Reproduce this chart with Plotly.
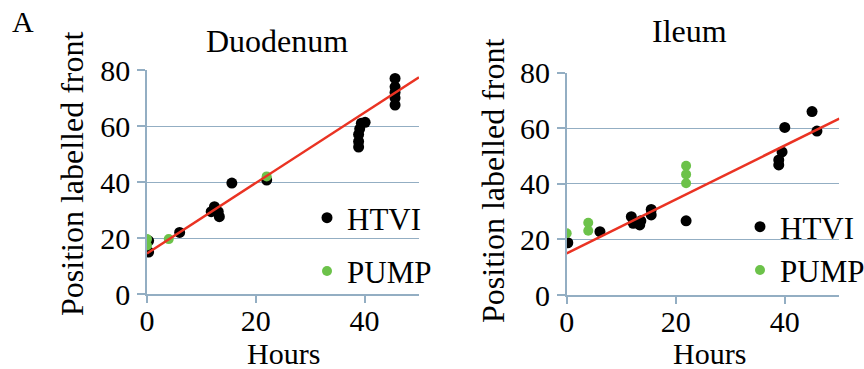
import plotly.graph_objects as go

# ---- data ----
hours_fit = [0, 50]

duo_htvi_x = [0.3, 0.3, 6, 11.8, 12.4, 13.1, 13.3, 15.6, 22, 38.9, 38.9, 38.9, 39.1, 39.4, 40.1, 45.6, 45.6, 45.6, 45.6, 45.6]
duo_htvi_y = [15, 19, 22, 29.4, 31.2, 29.4, 27.6, 39.6, 40.7, 52.5, 54.5, 57, 59, 61, 61.3, 77, 74, 72, 70, 67.5]
duo_pump_x = [0, 0, 4, 22]
duo_pump_y = [17.3, 19.6, 19.6, 42]
duo_fit_y = [14.5, 77.4]

ile_htvi_x = [0.2, 6.1, 11.85, 12.2, 13.4, 13.6, 15.5, 15.5, 21.9, 38.9, 38.9, 39.5, 40, 45, 45.9]
ile_htvi_y = [18.8, 22.8, 28.2, 25.8, 25.2, 26.7, 30.8, 28.8, 26.7, 46.8, 48.6, 51.5, 60.3, 66, 59]
ile_pump_x = [0, 3.95, 3.95, 21.9, 21.9, 21.9]
ile_pump_y = [22.2, 26, 23.1, 46.5, 43.4, 40.2]
ile_fit_y = [15, 63.5]

y_ticks = [0, 20, 40, 60, 80]
x_ticks = [0, 20, 40]

FONT = "Liberation Serif, Times New Roman, serif"
AXC = "#93aec3"
BLACK = "#000000"
GREEN = "#6cc24a"
RED = "#ea3323"

fig = go.Figure()

# Duodenum
fig.add_trace(go.Scatter(x=duo_htvi_x, y=duo_htvi_y, mode="markers", name="HTVI",
                         marker=dict(color=BLACK, size=11), xaxis="x", yaxis="y",
                         legend="legend", legendgroup="a1"))
fig.add_trace(go.Scatter(x=duo_pump_x, y=duo_pump_y, mode="markers", name="PUMP",
                         marker=dict(color=GREEN, size=10), xaxis="x", yaxis="y",
                         legend="legend", legendgroup="a2"))
fig.add_trace(go.Scatter(x=hours_fit, y=duo_fit_y, mode="lines", showlegend=False,
                         line=dict(color=RED, width=2.5), xaxis="x", yaxis="y"))
# Ileum
fig.add_trace(go.Scatter(x=ile_htvi_x, y=ile_htvi_y, mode="markers", name="HTVI",
                         marker=dict(color=BLACK, size=11), xaxis="x2", yaxis="y2",
                         legend="legend2", legendgroup="b1"))
fig.add_trace(go.Scatter(x=ile_pump_x, y=ile_pump_y, mode="markers", name="PUMP",
                         marker=dict(color=GREEN, size=10), xaxis="x2", yaxis="y2",
                         legend="legend2", legendgroup="b2"))
fig.add_trace(go.Scatter(x=hours_fit, y=ile_fit_y, mode="lines", showlegend=False,
                         line=dict(color=RED, width=2.5), xaxis="x2", yaxis="y2"))

xa = dict(range=[0, 50], tickvals=x_ticks, showline=True, linecolor=AXC, linewidth=1.5,
          ticks="outside", ticklen=7, tickcolor=AXC, tickwidth=1.5, showgrid=False,
          zeroline=False, tickfont=dict(family=FONT, size=30, color="black"),
          ticklabelstandoff=-8, automargin=False)
ya = dict(range=[0, 80], tickvals=y_ticks, showline=True, linecolor=AXC, linewidth=1.5,
          ticks="outside", ticklen=8, tickcolor=AXC, tickwidth=1.5, showgrid=True,
          gridcolor=AXC, gridwidth=1.3, zeroline=False,
          tickfont=dict(family=FONT, size=30, color="black"), ticklabelstandoff=1,
          automargin=False)

W, H = 864, 369
def px(x): return x / W
def py(y): return 1 - y / H

fig.update_layout(
    width=W, height=H, margin=dict(l=0, r=0, t=0, b=0, autoexpand=False),
    paper_bgcolor="white", plot_bgcolor="white",
    xaxis=dict(xa, domain=[px(147), px(419)], anchor="y"),
    yaxis=dict(ya, domain=[py(294), py(70)], anchor="x"),
    xaxis2=dict(xa, domain=[px(566.7), px(839.3)], anchor="y2"),
    yaxis2=dict(ya, domain=[py(295), py(72.7)], anchor="x2"),
    legend=dict(x=px(307), y=py(191), xanchor="left", yanchor="top",
                font=dict(family=FONT, size=31, color="black"),
                bgcolor="rgba(0,0,0,0)", traceorder="grouped", tracegroupgap=10),
    legend2=dict(x=px(740), y=py(200), xanchor="left", yanchor="top",
                 font=dict(family=FONT, size=31, color="black"),
                 bgcolor="rgba(0,0,0,0)", traceorder="grouped", tracegroupgap=0),
    showlegend=True,
)

ann = [
    dict(text="A", x=px(23), y=py(22), font=dict(size=30)),
    dict(text="Duodenum", x=px(277), y=py(41), font=dict(size=32)),
    dict(text="Ileum", x=px(689), y=py(31), font=dict(size=32)),
    dict(text="Hours", x=px(283), y=py(353), font=dict(size=30)),
    dict(text="Hours", x=px(709), y=py(353), font=dict(size=30)),
    dict(text="Position labelled front", x=px(72), y=py(174), font=dict(size=32), textangle=-90),
    dict(text="Position labelled front", x=px(493), y=py(181), font=dict(size=32), textangle=-90),
]
for a in ann:
    a.update(xref="paper", yref="paper", showarrow=False, xanchor="center", yanchor="middle")
    a["font"].update(family=FONT, color="black")
fig.update_layout(annotations=ann)

fig.write_html("out.html")
